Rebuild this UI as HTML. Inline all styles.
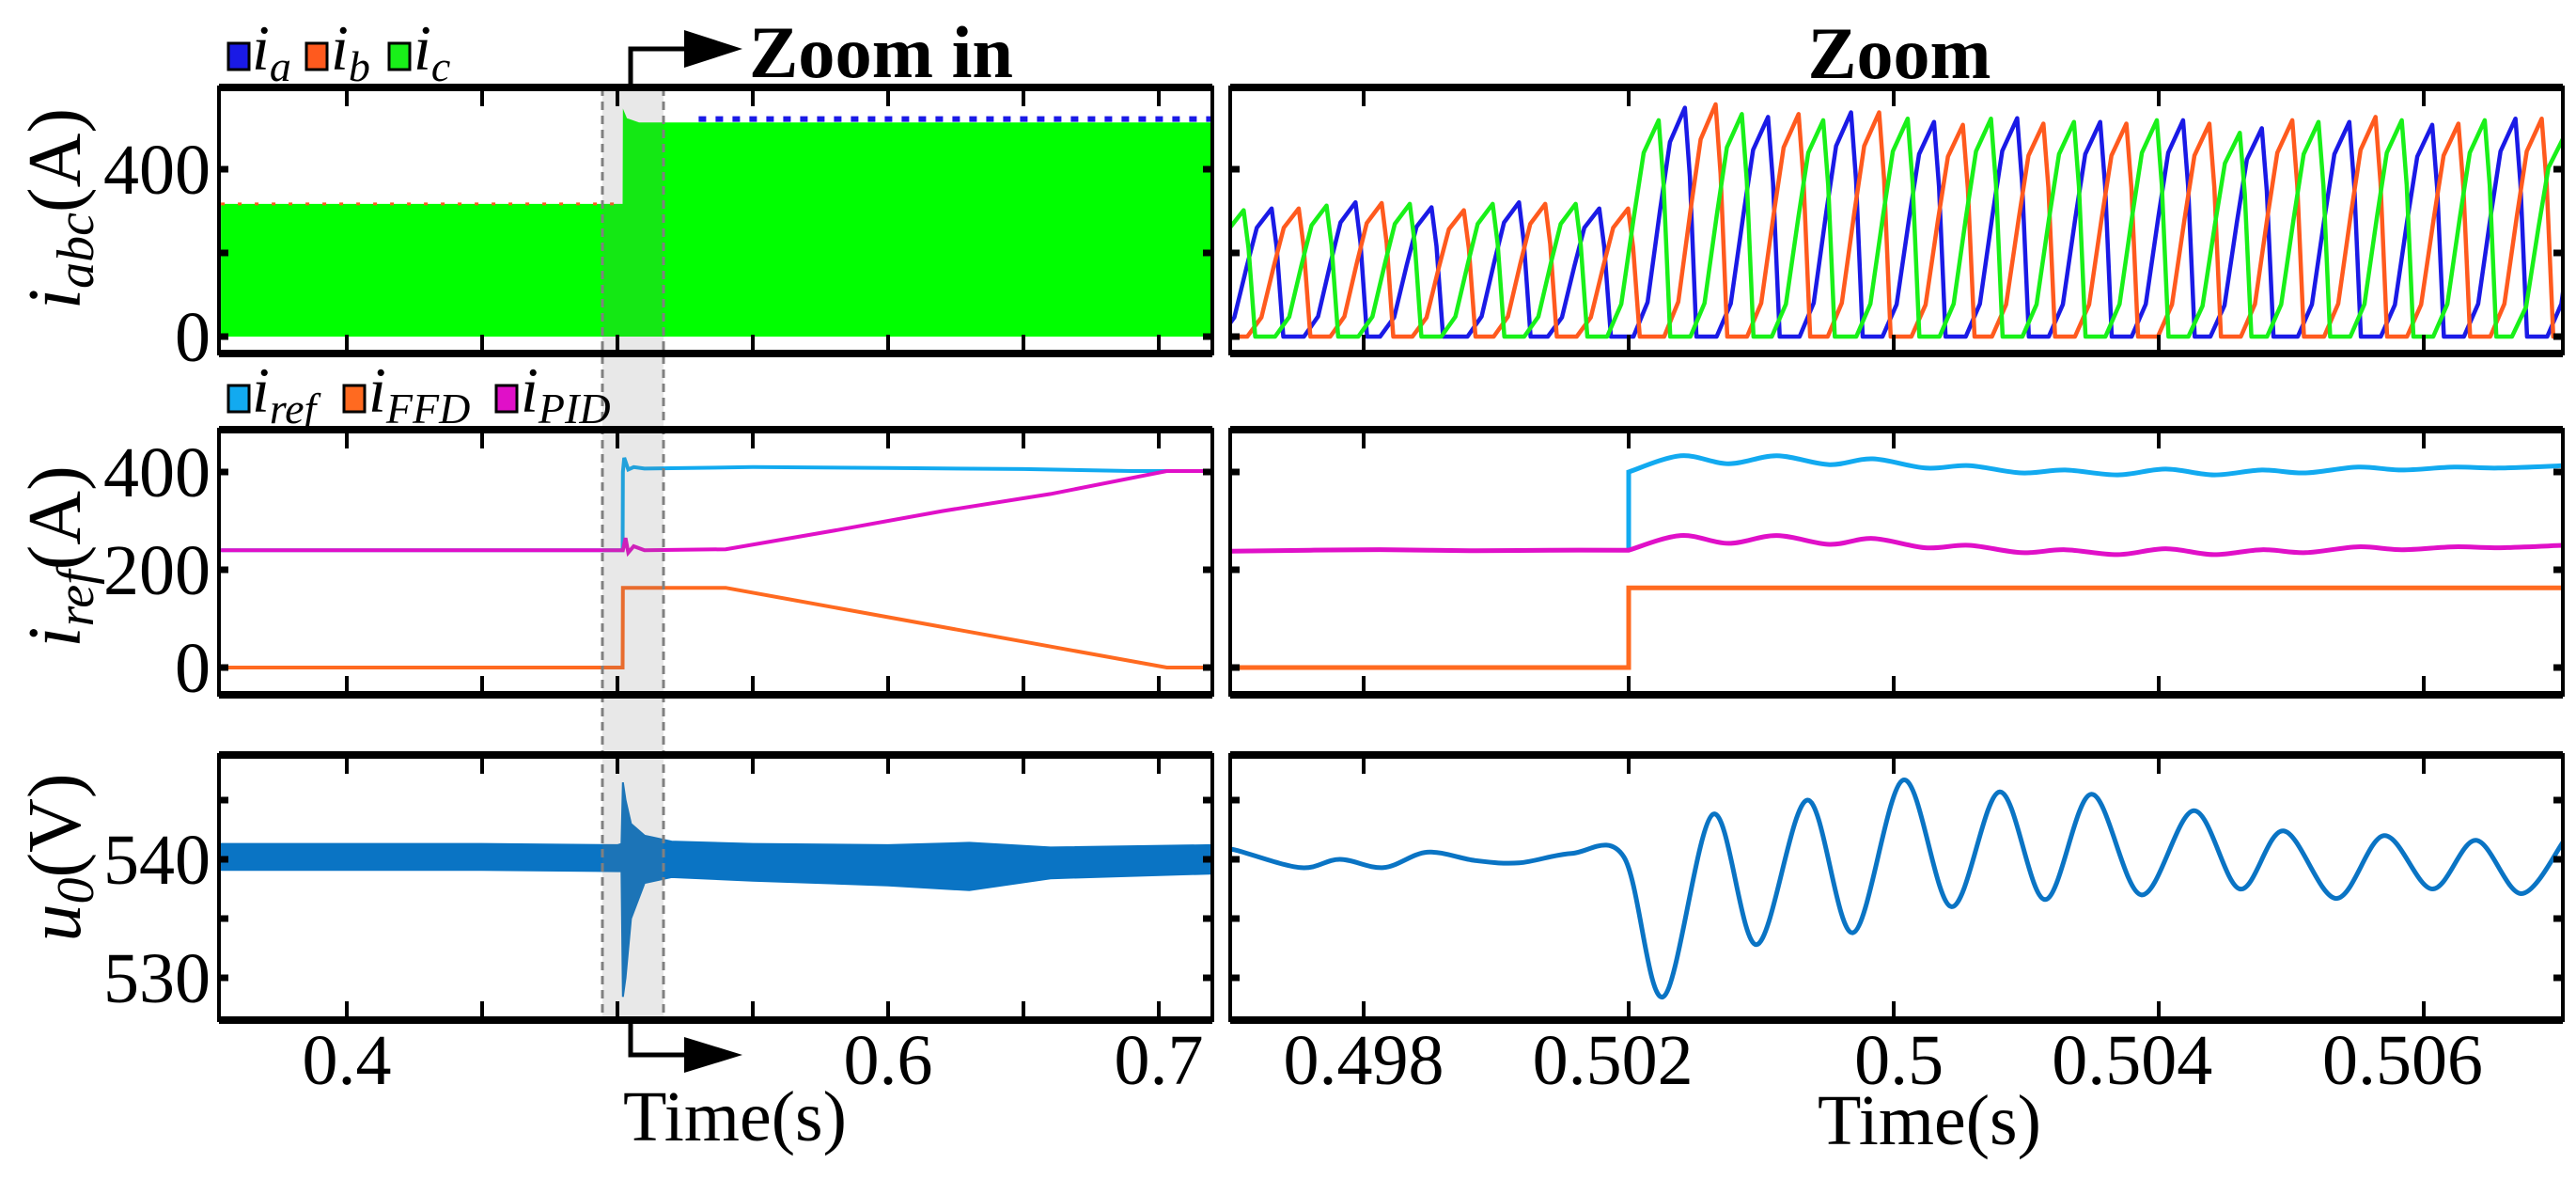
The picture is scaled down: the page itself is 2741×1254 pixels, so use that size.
<!DOCTYPE html>
<html><head><meta charset="utf-8"><style>
html,body{margin:0;padding:0;background:#fff;}
svg{display:block;font-family:"Liberation Serif",serif;}
</style></head><body>
<svg id="fig" xmlns="http://www.w3.org/2000/svg" width="2741" height="1254" viewBox="0 0 2741 1254">
<defs>
<clipPath id="cL1"><rect x="233" y="93" width="1057" height="283"/></clipPath>
<clipPath id="cL2"><rect x="233" y="457" width="1057" height="282"/></clipPath>
<clipPath id="cL3"><rect x="233" y="803" width="1057" height="282"/></clipPath>
<clipPath id="cR1"><rect x="1309" y="93" width="1418" height="283"/></clipPath>
<clipPath id="cR2"><rect x="1309" y="457" width="1418" height="282"/></clipPath>
<clipPath id="cR3"><rect x="1309" y="803" width="1418" height="282"/></clipPath>
</defs>
<g id="marks"></g>
<g id="frames"></g>
<g id="texts"></g>
<g font-family="Liberation Serif, serif">
 <text x="782" y="1213" font-size="76" text-anchor="middle">Time(s)</text>
 <text x="2053" y="1217" font-size="76" text-anchor="middle">Time(s)</text>
 <text x="797" y="82" font-size="78" font-weight="bold" textLength="281" lengthAdjust="spacingAndGlyphs">Zoom in</text>
 <text x="2021" y="83" font-size="78" font-weight="bold" text-anchor="middle">Zoom</text>
 <g>
  <path d="M671,93 L671,52 L740,52" fill="none" stroke="#000" stroke-width="5"/>
  <path d="M728,32 L790,52 L728,72 Z" fill="#000"/>
 </g>
 <g>
  <path d="M671,1085 L671,1122 L740,1122" fill="none" stroke="#000" stroke-width="5"/>
  <path d="M728,1103 L790,1122 L728,1141 Z" fill="#000"/>
 </g>
 <text transform="translate(85,222) rotate(-90)" text-anchor="middle" font-size="80"><tspan font-style="italic">i</tspan><tspan font-style="italic" font-size="56" dy="14">abc</tspan><tspan dy="-14">(A)</tspan></text>
 <text transform="translate(85,592) rotate(-90)" text-anchor="middle" font-size="80"><tspan font-style="italic">i</tspan><tspan font-style="italic" font-size="56" dy="14">ref</tspan><tspan dy="-14">(A)</tspan></text>
 <text transform="translate(85,912) rotate(-90)" text-anchor="middle" font-size="80"><tspan font-style="italic">u</tspan><tspan font-style="italic" font-size="56" dy="14">0</tspan><tspan dy="-14">(V)</tspan></text>
 <g font-style="italic">
  <rect x="243" y="46" width="22" height="28" fill="#1a1ae6" stroke="#000" stroke-width="3"/>
  <text x="268" y="74" font-size="68">i<tspan font-size="46" dy="12">a</tspan></text>
  <rect x="326" y="46" width="22" height="28" fill="#ff5a1e" stroke="#000" stroke-width="3"/>
  <text x="352" y="74" font-size="68">i<tspan font-size="46" dy="12">b</tspan></text>
  <rect x="414" y="46" width="22" height="28" fill="#19f019" stroke="#000" stroke-width="3"/>
  <text x="440" y="74" font-size="68">i<tspan font-size="46" dy="12">c</tspan></text>
 </g>
 <g font-style="italic">
  <rect x="243" y="410" width="22" height="28" fill="#12aaf0" stroke="#000" stroke-width="3"/>
  <text x="268" y="438" font-size="68">i<tspan font-size="46" dy="12">ref</tspan></text>
  <rect x="366" y="410" width="22" height="28" fill="#ff6a20" stroke="#000" stroke-width="3"/>
  <text x="392" y="438" font-size="68">i<tspan font-size="46" dy="12">FFD</tspan></text>
  <rect x="528" y="410" width="22" height="28" fill="#e010c8" stroke="#000" stroke-width="3"/>
  <text x="554" y="438" font-size="68">i<tspan font-size="46" dy="12">PID</tspan></text>
 </g>
</g>
</svg>
<script>
// ---------- data ----------
const envIT = [0.3535,0.5019,0.502,0.5035,0.508,0.72];
const envITop = [317,317,545,522,512,512];
const irefT = [0.3535,0.5019,0.502,0.5025,0.504,0.506,0.51,0.55,0.6,0.65,0.69,0.72];
const irefV = [240,240,400,429,405,410,407,410,408,406,402,402];
const pidT = [0.3535,0.502,0.503,0.504,0.506,0.51,0.54,0.58,0.62,0.66,0.703,0.72];
const pidV = [240,240,265,235,248,240,242,280,320,355,402,402];
const ffdT = [0.3535,0.5019,0.502,0.54,0.703,0.72];
const ffdV = [0,0,163,163,0,0];
const uT  = [0.3535,0.45,0.50,0.5015,0.502,0.503,0.505,0.51,0.52,0.55,0.6,0.63,0.66,0.72];
const uHi = [541.3,541.3,541.2,541.3,546.5,545,543,542,541.5,541.3,541.2,541.4,541,541.2];
const uLo = [539.1,539.1,539,539,528.4,530,535,538,538.5,538.2,537.8,537.4,538.4,538.8];
const gPk = [-0.767,-0.453,-0.14,0.174,0.487,0.8,1.113,1.427,1.734,2.053,2.367,2.68,2.993,3.306,3.603,3.917,4.23,4.527];
const gH  = [305,302,313,317,317,317,517,532,517,521,521,513,517,487,513,517,517,475];
const bPk = [-0.66,-0.347,-0.031,0.256,0.586,0.889,1.212,1.526,1.839,2.152,2.466,2.779,3.092,3.389,3.719,4.032,4.346,4.66];
const bH  = [306,306,321,309,321,306,547,525,536,513,522,513,517,498,513,506,521,520];
const oPk = [-0.56,-0.245,0.068,0.378,0.685,0.998,1.328,1.641,1.945,2.261,2.565,2.878,3.191,3.504,3.818,4.131,4.445,4.76];
const oH  = [300,306,319,302,317,306,555,532,536,506,509,509,509,517,525,509,521,520];
const zU   = [1.0,1.196,1.377,1.559,1.757,1.921,2.12,2.284,2.482,2.647,2.845,3.026,3.208,3.389,3.554,3.752,3.917,4.115,4.28,4.53];
const zIref= [400,433,417,433,415,427,408,413,398,404,394,406,394,404,398,410,404,410,408,413];
const zPid = [240,270,254,270,252,264,245,250,235,241,231,243,231,241,235,247,241,247,245,250];
const zPidPre = [238,240,241,239,240,240];
const zPreU = [-0.5,-0.2,0.1,0.4,0.7,1.0];
const zFfdU = [-0.5,1.0,1.0,4.53];
const zFfd = [0,0,163,163];
const vU = [-0.52,-0.486,-0.239,-0.09,0.075,0.24,0.421,0.586,0.784,0.982,1.13,1.318,1.483,1.674,1.846,2.037,2.218,2.4,2.571,2.746,2.934,3.132,3.306,3.471,3.669,3.85,4.032,4.197,4.368,4.53];
const vV = [540.7,540.8,539.3,540,539.3,540.6,539.9,539.7,540.5,540.2,528.4,543.8,532.8,545.0,533.8,546.7,536,545.7,536.6,545.5,537,544.1,537.5,542.4,536.7,542,537.5,541.6,537.1,541.6];
const lTicks = [0.4,0.45,0.5,0.55,0.6,0.65,0.7];
const lLabT = [0.4,0.6,0.7];
const lLab = ["0.4","0.6","0.7"];
const rTicks = [0,1,2,3,4];
const rLabU = [0,0.94,2.02,2.9,3.92];
const rLab = ["0.498","0.502","0.5","0.504","0.506"];
const y1Ticks=[0,200,400], y1Lab=[0,400];
const y2Ticks=[0,200,400], y2Lab=[0,200,400];
const y3Ticks=[530,535,540,545], y3Lab=[530,540];

const XL = t => 369 + (t-0.4)*2880;
const XR = u => 1451 + u*282;
const Y1 = v => 358 - v*0.445;
const Y2 = v => 710 - v*0.52;
const Y3 = v => 914 - (v-540)*12.6;
const NS="http://www.w3.org/2000/svg";
const marks=document.getElementById('marks'), frames=document.getElementById('frames'), texts=document.getElementById('texts');
function mk(tag,attrs,parent){const e=document.createElementNS(NS,tag);for(const k in attrs)e.setAttribute(k,attrs[k]);parent.appendChild(e);return e;}
function lin(xs,ys,fx,fy){return xs.map((x,i)=>(i?'L':'M')+fx(x).toFixed(1)+','+fy(ys[i]).toFixed(1)).join('');}
function cr(pts){let d='';for(let i=0;i<pts.length-1;i++){const p0=pts[Math.max(0,i-1)],p1=pts[i],p2=pts[i+1],p3=pts[Math.min(pts.length-1,i+2)];
 const c1=[p1[0]+(p2[0]-p0[0])/6,p1[1]+(p2[1]-p0[1])/6],c2=[p2[0]-(p3[0]-p1[0])/6,p2[1]-(p3[1]-p1[1])/6];
 d+='C'+c1[0].toFixed(1)+','+c1[1].toFixed(1)+' '+c2[0].toFixed(1)+','+c2[1].toFixed(1)+' '+p2[0].toFixed(1)+','+p2[1].toFixed(1);}return d;}

let g=mk('g',{'clip-path':'url(#cL1)'},marks);


let d='M'+XL(envIT[0])+','+Y1(0)+lin(envIT,envITop,XL,Y1).replace('M','L')+'L'+XL(envIT[envIT.length-1])+','+Y1(0)+'Z';
let e=mk('path',{d:d,fill:'#00ff00'},g);


e=mk('path',{d:lin([0.53,0.72],[520,520],XL,Y1),stroke:'#1a1ae6','stroke-width':6,'stroke-dasharray':'8 10',fill:'none'},g);


e=mk('path',{d:lin([0.3535,0.502],[317,317],XL,Y1),stroke:'#ff5a1e','stroke-width':3,'stroke-dasharray':'4 14',fill:'none'},g);



g=mk('g',{'clip-path':'url(#cL2)',fill:'none','stroke-width':4},marks);


e=mk('path',{d:lin(ffdT,ffdV,XL,Y2),stroke:'#ff6a20'},g);


e=mk('path',{d:lin(irefT,irefV,XL,Y2),stroke:'#12aaf0'},g);


e=mk('path',{d:lin(pidT,pidV,XL,Y2),stroke:'#e010c8'},g);



g=mk('g',{'clip-path':'url(#cL3)'},marks);


d=lin(uT,uHi,XL,Y3)+lin(uT.slice().reverse(),uLo.slice().reverse(),XL,Y3).replace('M','L')+'Z';
e=mk('path',{d:d,fill:'#0a74c4',stroke:'#0a74c4','stroke-width':2},g);



g=mk('g',{'clip-path':'url(#cR1)',fill:'none','stroke-width':4.5,'stroke-linejoin':'round'},marks);


const P=0.313;
function phase(pk,h){let pts=[[-0.6,0]];pk.forEach((p,i)=>{const H=h[i];
 pts.push([p-0.62*P,0],[p-0.45*P,0.15*H],[p-0.3*P,0.55*H],[p-0.18*P,0.85*H],[p,H],[p+0.06*P,0.7*H],[p+0.14*P,0]);});
 pts.push([5,0]);return pts.map((q,i)=>(i?'L':'M')+XR(q[0]).toFixed(1)+','+Y1(q[1]).toFixed(1)).join('');}
e=mk('path',{d:phase(bPk,bH),stroke:'#1a1ae6'},g);


e=mk('path',{d:phase(oPk,oH),stroke:'#ff5a1e'},g);


e=mk('path',{d:phase(gPk,gH),stroke:'#19f019'},g);



g=mk('g',{'clip-path':'url(#cR2)',fill:'none','stroke-width':5},marks);


e=mk('path',{d:lin(zFfdU,zFfd,XR,Y2),stroke:'#ff6a20'},g);


let pts=zU.map((u,i)=>[XR(u),Y2(zIref[i])]);
e=mk('path',{d:'M'+XR(1.0)+','+Y2(zPid[0])+'L'+pts[0][0]+','+pts[0][1]+cr(pts),stroke:'#12aaf0'},g);


let pre=zPreU.map((u,i)=>[XR(u),Y2(zPidPre[i])]);
pts=zU.map((u,i)=>[XR(u),Y2(zPid[i])]);
e=mk('path',{d:'M'+pre[0][0]+','+pre[0][1]+cr(pre)+cr(pts),stroke:'#e010c8'},g);



g=mk('g',{'clip-path':'url(#cR3)',fill:'none','stroke-width':5},marks);


pts=vU.map((u,i)=>[XR(u),Y3(vV[i])]);
e=mk('path',{d:'M'+pts[0][0]+','+pts[0][1]+cr(pts),stroke:'#0a74c4'},g);



e=mk('rect',{x:641,y:93,width:65,height:995,fill:'rgba(120,120,120,0.17)'},marks);


[641,706].forEach(x=>{const l=mk('line',{x1:x,y1:93,x2:x,y2:1088,stroke:'#808080','stroke-width':3,'stroke-dasharray':'9 6'},marks);

});

function panel(name,x0,x1,y0,y1,xt,fx,yt,fy){
 const f=mk('g',{},frames);
 
 
 mk('rect',{x:x0,y:y0,width:x1-x0,height:y1-y0,fill:'none',stroke:'#000','stroke-width':4},f);
 mk('line',{x1:x0,y1:y0,x2:x1,y2:y0,stroke:'#000','stroke-width':8},f);
 mk('line',{x1:x0,y1:y1,x2:x1,y2:y1,stroke:'#000','stroke-width':8},f);
 xt.forEach(t=>{const x=fx(t);mk('line',{x1:x,y1:y0,x2:x,y2:y0+20,stroke:'#000','stroke-width':4},f);mk('line',{x1:x,y1:y1,x2:x,y2:y1-20,stroke:'#000','stroke-width':4},f);});
 yt.forEach(v=>{const y=fy(v);mk('line',{x1:x0,y1:y,x2:x0+10,y2:y,stroke:'#000','stroke-width':7},f);mk('line',{x1:x1,y1:y,x2:x1-10,y2:y,stroke:'#000','stroke-width':7},f);});
}
panel('iabc-overview-frame',233,1290,93,376,lTicks,XL,y1Ticks,Y1);
panel('iref-overview-frame',233,1290,457,739,lTicks,XL,y2Ticks,Y2);
panel('u0-overview-frame',233,1290,803,1085,lTicks,XL,y3Ticks,Y3);
panel('iabc-zoom-frame',1309,2727,93,376,rTicks,XR,y1Ticks,Y1);
panel('iref-zoom-frame',1309,2727,457,739,rTicks,XR,y2Ticks,Y2);
panel('u0-zoom-frame',1309,2727,803,1085,rTicks,XR,y3Ticks,Y3);

function txt(s,x,y,size,anchor,name){const t=mk('text',{x:x,y:y,'font-size':size,'text-anchor':anchor},texts);t.textContent=s;
 
 return t;}
y1Lab.forEach(v=>txt(String(v),224,Y1(v)+26,76,'end','y-tick-label-iabc'));
y2Lab.forEach(v=>txt(String(v),224,Y2(v)+26,76,'end','y-tick-label-iref'));
y3Lab.forEach(v=>txt(String(v),224,Y3(v)+26,76,'end','y-tick-label-u0'));
lLabT.forEach((t,i)=>txt(lLab[i],XL(t),1153,76,'middle','x-tick-label-overview'));
rLabU.forEach((u,i)=>txt(rLab[i],XR(u),1153,76,'middle','x-tick-label-zoom'));
</script>
</body></html>
